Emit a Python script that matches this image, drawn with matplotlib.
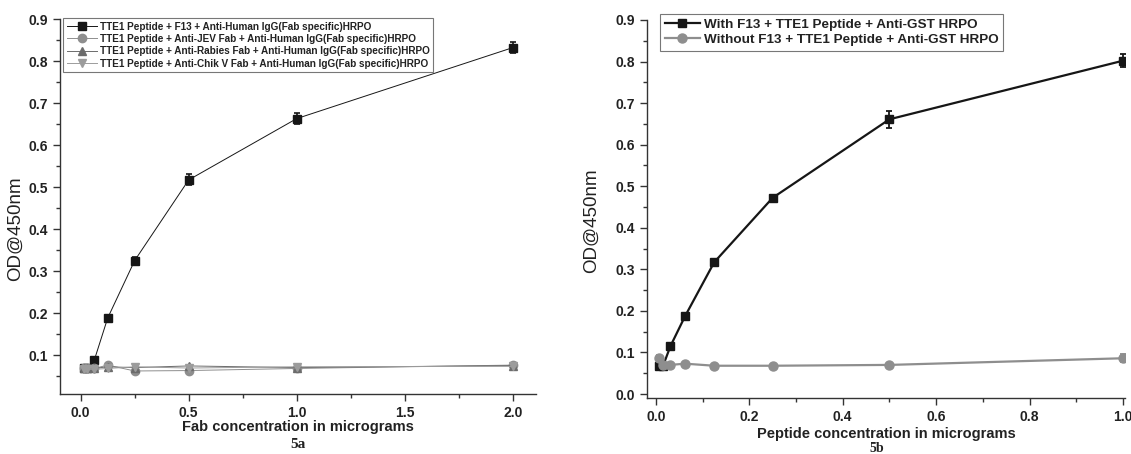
import matplotlib
matplotlib.use("Agg")
import matplotlib.pyplot as plt
from matplotlib.ticker import MultipleLocator

plt.rcParams["font.family"] = ["Liberation Sans", "DejaVu Sans"]

# ---- data: panel 5a (Fab titration) ----
fab_x = [0.0156, 0.03125, 0.0625, 0.125, 0.25, 0.5, 1.0, 2.0]
f13_y = [0.068, 0.068, 0.087, 0.188, 0.325, 0.517, 0.663, 0.832]
f13_err = [0.004, 0.004, 0.004, 0.008, 0.008, 0.013, 0.013, 0.013]
jev_y = [0.068, 0.068, 0.068, 0.076, 0.062, 0.063, 0.068, 0.076]
rabies_y = [0.070, 0.070, 0.068, 0.072, 0.070, 0.074, 0.070, 0.075]
chik_y = [0.066, 0.066, 0.066, 0.068, 0.072, 0.069, 0.072, 0.073]
ctrl_err = [0.003] * 8

labels_a = [
    "TTE1 Peptide + F13 + Anti-Human IgG(Fab specific)HRPO",
    "TTE1 Peptide + Anti-JEV Fab + Anti-Human IgG(Fab specific)HRPO",
    "TTE1 Peptide + Anti-Rabies Fab + Anti-Human IgG(Fab specific)HRPO",
    "TTE1 Peptide + Anti-Chik V Fab + Anti-Human IgG(Fab specific)HRPO",
]

# ---- data: panel 5b (peptide titration) ----
pep_x = [0.0078, 0.0156, 0.03125, 0.0625, 0.125, 0.25, 0.5, 1.0]
with_y = [0.068, 0.068, 0.115, 0.187, 0.317, 0.472, 0.661, 0.802]
with_err = [0.005, 0.005, 0.006, 0.006, 0.006, 0.008, 0.020, 0.015]
without_y = [0.087, 0.070, 0.070, 0.073, 0.068, 0.068, 0.070, 0.086]
without_err = [0.008, 0.005, 0.005, 0.005, 0.005, 0.005, 0.005, 0.010]

labels_b = [
    "With F13 + TTE1 Peptide + Anti-GST HRPO",
    "Without F13 + TTE1 Peptide + Anti-GST HRPO",
]

BLACK = "#161616"
GREY = "#8e8e8e"
DGREY = "#6c6c6c"
LGREY = "#9c9c9c"
TXT = "#222222"

fig = plt.figure(figsize=(11.31, 4.54), dpi=100)
ax1 = fig.add_axes([0.053, 0.132, 0.421, 0.826])
ax2 = fig.add_axes([0.572, 0.123, 0.423, 0.833])


def style_axes(ax):
    for s in ("top", "right"):
        ax.spines[s].set_visible(False)
    for s in ("left", "bottom"):
        ax.spines[s].set_color("#333333")
        ax.spines[s].set_linewidth(1.0)
    ax.tick_params(which="both", direction="out", color="#333333")
    ax.tick_params(which="major", length=5, width=1.0, labelsize=10)
    ax.tick_params(which="minor", length=3, width=1.0)
    for lbl in ax.get_xticklabels() + ax.get_yticklabels():
        lbl.set_fontweight("bold")
        lbl.set_color(TXT)


def add_legend(ax, anchor, size, hlen, spacing):
    # markers + lines only, no error bar stubs in the key
    handles = [c.lines[0] for c in ax.containers]
    labels = [c.get_label() for c in ax.containers]
    leg = ax.legend(handles, labels, loc="upper left", bbox_to_anchor=anchor,
                    bbox_transform=fig.transFigure, borderaxespad=0,
                    prop={"weight": "bold", "size": size}, numpoints=1,
                    handlelength=hlen, handletextpad=0.3, labelspacing=spacing,
                    borderpad=0.35, fancybox=False, framealpha=1)
    leg.get_frame().set_edgecolor("#777777")
    leg.get_frame().set_linewidth(0.8)
    for t in leg.get_texts():
        t.set_color(TXT)
    return leg


# ---- panel 5a ----
ax1.errorbar(fab_x, f13_y, yerr=f13_err, color=BLACK, lw=0.7, marker="s", ms=5.5,
             capsize=2.5, elinewidth=1.2, capthick=1.2, label=labels_a[0])
ax1.errorbar(fab_x, jev_y, yerr=ctrl_err, color=GREY, lw=0.7, marker="o", ms=6,
             capsize=2, label=labels_a[1])
ax1.errorbar(fab_x, rabies_y, yerr=ctrl_err, color=DGREY, lw=0.7, marker="^", ms=6,
             capsize=2, label=labels_a[2])
ax1.errorbar(fab_x, chik_y, yerr=ctrl_err, color=LGREY, lw=0.7, marker="v", ms=6,
             capsize=2, label=labels_a[3])

ax1.set_xlim(-0.096, 2.108)
ax1.set_ylim(0.007, 0.9)
ax1.set_yticks([0.1, 0.2, 0.3, 0.4, 0.5, 0.6, 0.7, 0.8, 0.9])
ax1.yaxis.set_minor_locator(MultipleLocator(0.05))
ax1.xaxis.set_major_locator(MultipleLocator(0.5))
ax1.xaxis.set_minor_locator(MultipleLocator(0.25))
style_axes(ax1)

ax1.set_ylabel("OD@450nm", fontsize=13.5, color=TXT, va="center")
ax1.yaxis.set_label_coords(-0.093, 0.44)
ax1.set_xlabel("Fab concentration in micrograms", fontsize=10.5, fontweight="bold",
               color=TXT, va="center")
ax1.xaxis.set_label_coords(0.5, -0.088)
fig.text(0.263, 0.02, "5a", family="Liberation Serif", fontweight="bold",
         fontsize=11, ha="center", va="center", color=TXT)

add_legend(ax1, (63 / 1131, 1 - 18 / 454), 7.2, 3.0, 0.24)

# ---- panel 5b ----
ax2.errorbar(pep_x, with_y, yerr=with_err, color=BLACK, lw=1.6, marker="s", ms=5.5,
             capsize=2.5, elinewidth=1.3, capthick=1.3, label=labels_b[0])
ax2.errorbar(pep_x, without_y, yerr=without_err, color=GREY, lw=1.6, marker="o", ms=6.5,
             capsize=2.5, elinewidth=1.3, capthick=1.3, label=labels_b[1])

ax2.set_xlim(-0.019, 1.005)
ax2.set_ylim(-0.01, 0.9)
ax2.yaxis.set_major_locator(MultipleLocator(0.1))
ax2.yaxis.set_minor_locator(MultipleLocator(0.05))
ax2.xaxis.set_major_locator(MultipleLocator(0.2))
ax2.xaxis.set_minor_locator(MultipleLocator(0.1))
style_axes(ax2)

ax2.set_ylabel("OD@450nm", fontsize=13.5, color=TXT, va="center")
ax2.yaxis.set_label_coords(-0.115, 0.47)
ax2.set_xlabel("Peptide concentration in micrograms", fontsize=10.5, fontweight="bold",
               color=TXT, va="center")
ax2.xaxis.set_label_coords(0.5, -0.095)
fig.text(0.775, 0.012, "5b", family="Liberation Serif", fontweight="bold",
         fontsize=10, ha="center", va="center", color=TXT)

add_legend(ax2, (660 / 1131, 1 - 14 / 454), 9.7, 2.6, 0.18)

fig.savefig("out.png", dpi=100)
